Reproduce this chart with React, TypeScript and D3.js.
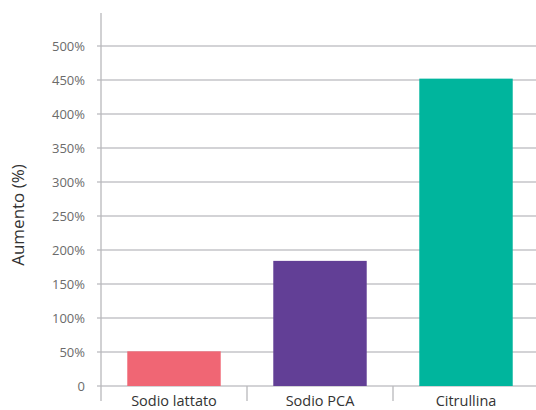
import React, { useEffect, useRef } from "react";
import * as d3 from "d3";

const categories = ["Sodio lattato", "Sodio PCA", "Citrullina"];
const values = [51, 184, 452];
const colors = ["#F06674", "#623F96", "#00B59D"];
const yTicks = [0, 50, 100, 150, 200, 250, 300, 350, 400, 450, 500];
const yTitle = "Aumento (%)";

const W = 536;
const H = 410;
const FONT = "'Open Sans', sans-serif";

export default function App() {
  const ref = useRef<SVGSVGElement>(null);

  useEffect(() => {
    const svg = d3.select(ref.current);
    svg.selectAll("*").remove();

    const x = d3.scaleBand<string>().domain(categories).range([101, 539]).paddingInner(0.36).paddingOuter(0.18);
    const y = d3.scaleLinear().domain([0, 500]).range([386, 46]);

    // gridlines
    svg
      .append("g")
      .selectAll("line")
      .data(yTicks)
      .join("line")
      .attr("x1", 97)
      .attr("x2", W)
      .attr("y1", (d) => y(d))
      .attr("y2", (d) => y(d))
      .attr("stroke", "#c4c4c8")
      .attr("stroke-width", 1.3);

    // bars
    svg
      .append("g")
      .selectAll("rect")
      .data(categories)
      .join("rect")
      .attr("x", (d) => x(d)!)
      .attr("width", x.bandwidth())
      .attr("y", (d, i) => y(values[i]))
      .attr("height", (d, i) => y(0) - y(values[i]))
      .attr("fill", (d, i) => colors[i]);

    // y axis line
    svg
      .append("line")
      .attr("x1", 101)
      .attr("x2", 101)
      .attr("y1", 13)
      .attr("y2", 401)
      .attr("stroke", "#b8b8bc")
      .attr("stroke-width", 1.3);

    // category separators
    const seps = categories.slice(1).map((c) => x(c)! - (x.step() * x.paddingInner()) / 2);
    svg
      .append("g")
      .selectAll("line")
      .data(seps)
      .join("line")
      .attr("x1", (d) => d)
      .attr("x2", (d) => d)
      .attr("y1", 386)
      .attr("y2", 401)
      .attr("stroke", "#b8b8bc")
      .attr("stroke-width", 1.3);

    // y tick labels
    svg
      .append("g")
      .selectAll("text")
      .data(yTicks)
      .join("text")
      .attr("x", 85)
      .attr("y", (d) => y(d))
      .attr("dy", "0.35em")
      .attr("text-anchor", "end")
      .attr("font-family", FONT)
      .attr("font-size", 13)
      .attr("fill", "#6b6b6b")
      .text((d) => (d === 0 ? "0" : `${d}%`));

    // x labels
    svg
      .append("g")
      .selectAll("text")
      .data(categories)
      .join("text")
      .attr("x", (d) => x(d)! + x.bandwidth() / 2)
      .attr("y", 406)
      .attr("text-anchor", "middle")
      .attr("font-family", FONT)
      .attr("font-size", 14.5)
      .attr("fill", "#333")
      .text((d) => d);

    // y title
    svg
      .append("text")
      .attr("transform", `translate(24,215) rotate(-90)`)
      .attr("text-anchor", "middle")
      .attr("font-family", FONT)
      .attr("font-size", 17)
      .attr("fill", "#333")
      .text(yTitle);
  }, []);

  return (
    <svg
      ref={ref}
      width={W}
      height={H}
      style={{ position: "absolute", left: 0, top: 0, background: "#fff" }}
    />
  );
}
